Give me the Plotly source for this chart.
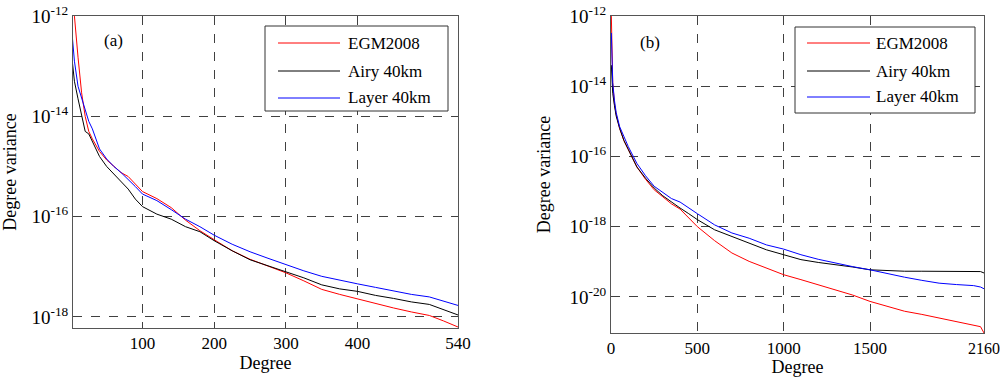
import numpy as np
import plotly.graph_objects as go

# ---------------- data (log10 of degree variance) ----------------
deg_a = [2, 5, 10, 15, 20, 25, 30, 40, 50, 60, 70, 80, 90, 100, 120, 140, 160, 180, 200,
         225, 250, 275, 300, 325, 350, 375, 400, 425, 450, 475, 500, 520, 540]
egm_a = [-11.85, -12.0, -12.82, -13.53, -14.0, -14.3, -14.45, -14.7, -14.87, -15.0, -15.12, -15.2,
         -15.35, -15.5, -15.64, -15.82, -16.07, -16.28, -16.46, -16.68, -16.85, -16.98, -17.12,
         -17.28, -17.45, -17.55, -17.64, -17.74, -17.82, -17.9, -17.97, -18.08, -18.2]
airy_a = [-12.9, -13.3, -13.65, -13.95, -14.3, -14.35, -14.5, -14.8, -15.0, -15.15, -15.3, -15.45,
          -15.65, -15.8, -15.95, -16.05, -16.2, -16.3, -16.48, -16.68, -16.86, -16.98, -17.09,
          -17.22, -17.36, -17.44, -17.49, -17.57, -17.63, -17.7, -17.75, -17.85, -17.96]
layer_a = [-12.4, -12.9, -13.4, -13.65, -13.86, -14.1, -14.25, -14.65, -14.85, -15.0, -15.12, -15.25,
           -15.4, -15.55, -15.68, -15.86, -16.05, -16.2, -16.37, -16.55, -16.7, -16.83, -16.96,
           -17.08, -17.19, -17.27, -17.34, -17.41, -17.48, -17.55, -17.6, -17.68, -17.77]

deg_b = [2, 5, 10, 20, 30, 50, 75, 100, 150, 200, 250, 300, 350, 400, 450, 500, 600, 700, 800,
         900, 1000, 1100, 1200, 1300, 1400, 1500, 1600, 1700, 1800, 1900, 2000, 2100, 2140, 2160]
egm_b = [-12.0, -13.0, -13.9, -14.5, -14.8, -15.2, -15.55, -15.8, -16.3, -16.65, -16.95, -17.15,
         -17.35, -17.5, -17.75, -18.0, -18.4, -18.75, -18.99, -19.18, -19.37, -19.51, -19.66,
         -19.8, -19.95, -20.13, -20.27, -20.41, -20.5, -20.6, -20.7, -20.79, -20.85, -21.03]
airy_b = [-13.4, -13.7, -14.2, -14.55, -14.85, -15.2, -15.55, -15.8, -16.3, -16.62, -16.9, -17.12,
          -17.3, -17.47, -17.63, -17.8, -18.09, -18.28, -18.47, -18.66, -18.8, -18.94, -19.02,
          -19.08, -19.15, -19.23, -19.26, -19.27, -19.27, -19.27, -19.27, -19.26, -19.28, -19.32]
layer_b = [-12.48, -13.2, -13.9, -14.4, -14.75, -15.15, -15.45, -15.72, -16.2, -16.55, -16.85, -17.02,
           -17.2, -17.3, -17.47, -17.63, -17.95, -18.18, -18.33, -18.52, -18.64, -18.8, -18.93,
           -19.04, -19.14, -19.23, -19.34, -19.44, -19.53, -19.61, -19.65, -19.68, -19.72, -19.77]

series_names = ["EGM2008", "Airy 40km", "Layer 40km"]
series_colors = ["#ff0000", "#000000", "#0000ff"]

xticks_a = [100, 200, 300, 400, 540]
xticks_b = [0, 500, 1000, 1500, 2160]
yexp_a = [-12, -14, -16, -18]
yexp_b = [-12, -14, -16, -18, -20]

FONT = "Liberation Serif"
W, H = 1000, 377
TOP, BOTTOM = 16, 333        # page-pixel top / bottom of the plotting region
MT = TOP
MB = H - BOTTOM
PH = H - MT - MB


def fx(x):
    # page pixel x -> paper x
    return x / W


def fy(y):
    # page pixel y -> paper y (paper spans the plotting region)
    return (BOTTOM - y) / PH


fig = go.Figure()

for vals, name, col in zip([egm_a, airy_a, layer_a], series_names, series_colors):
    fig.add_trace(go.Scatter(x=deg_a, y=10.0 ** np.array(vals), mode="lines", name=name,
                             line=dict(color=col, width=1), showlegend=False,
                             xaxis="x", yaxis="y"))
for vals, name, col in zip([egm_b, airy_b, layer_b], series_names, series_colors):
    fig.add_trace(go.Scatter(x=deg_b, y=10.0 ** np.array(vals), mode="lines", name=name,
                             line=dict(color=col, width=1), showlegend=False,
                             xaxis="x2", yaxis="y2"))

axis_common = dict(showline=True, mirror=True, linecolor="#555555", linewidth=1,
                   showgrid=True, gridcolor="#404040", gridwidth=1, griddash="dash",
                   zeroline=False, ticks="", automargin=False, ticklabeloverflow="allow")
xfont = dict(family=FONT, size=17, color="#000")
yfont = dict(family=FONT, size=19, color="#000")
tfont = dict(family=FONT, size=18, color="#000")

fig.update_layout(
    width=W, height=H,
    margin=dict(l=0, r=0, t=MT, b=MB, pad=0, autoexpand=False),
    paper_bgcolor="white", plot_bgcolor="white",
    font=dict(family=FONT, size=17, color="#000"),
    xaxis=dict(domain=[fx(73), fx(458)], range=[3, 540.01], tickvals=xticks_a,
               ticktext=[str(v) for v in xticks_a], anchor="y", tickfont=xfont,
               title=dict(text="Degree", standoff=0, font=tfont),
               **axis_common),
    yaxis=dict(domain=[fy(328), fy(16)], type="log", range=[-18.22, -11.999],
               tickvals=[10.0 ** e for e in yexp_a],
               ticktext=["10<sup>%d</sup>" % e for e in yexp_a], anchor="x", tickfont=yfont,
               title=dict(text="Degree variance", standoff=20, font=tfont),
               **axis_common),
    xaxis2=dict(domain=[fx(611), fx(984)], range=[0, 2160.01], tickvals=xticks_b,
                ticktext=[str(v) for v in xticks_b[:-1]]
                + ["<span style='font-size:16px'>%d</span>" % xticks_b[-1]],
                anchor="y2", tickfont=xfont,
                title=dict(text="Degree", standoff=0, font=tfont),
                **axis_common),
    yaxis2=dict(domain=[fy(333), fy(16)], type="log", range=[-21.03, -11.999],
                tickvals=[10.0 ** e for e in yexp_b],
                ticktext=["10<sup>%d</sup>" % e for e in yexp_b], anchor="x2", tickfont=yfont,
                title=dict(text="Degree variance", standoff=14, font=tfont),
                **axis_common),
)

shapes = []
annotations = []


def add_legend(x0, x1, y0, y1, lx0, lx1, tx, rows):
    shapes.append(dict(type="rect", xref="paper", yref="paper", x0=fx(x0), x1=fx(x1),
                       y0=fy(y1), y1=fy(y0), line=dict(color="#333333", width=1),
                       fillcolor="white", layer="above"))
    for yy, name, col in zip(rows, series_names, series_colors):
        shapes.append(dict(type="line", xref="paper", yref="paper", x0=fx(lx0), x1=fx(lx1),
                           y0=fy(yy), y1=fy(yy), line=dict(color=col, width=1), layer="above"))
        annotations.append(dict(text=name, xref="paper", yref="paper", x=fx(tx), y=fy(yy),
                                xanchor="left", yanchor="middle", showarrow=False,
                                font=dict(family=FONT, size=17, color="#000")))


add_legend(265, 448, 26, 111, 278, 340, 346, [43, 71, 98])
add_legend(795, 975, 27, 113, 807, 870, 874, [43, 71, 97])

annotations.append(dict(text="(a)", xref="paper", yref="paper", x=fx(113), y=fy(41),
                        xanchor="center", yanchor="middle", showarrow=False,
                        font=dict(family=FONT, size=17, color="#000")))
annotations.append(dict(text="(b)", xref="paper", yref="paper", x=fx(650), y=fy(42),
                        xanchor="center", yanchor="middle", showarrow=False,
                        font=dict(family=FONT, size=17, color="#000")))

fig.update_layout(shapes=shapes, annotations=annotations)

# remove the default 8px page margin so the figure fills the 1000x377 window exactly
fig.write_html("out.html",
               config={"displayModeBar": False},
               post_script="document.body.style.margin='0px';document.body.style.overflow='hidden';")
